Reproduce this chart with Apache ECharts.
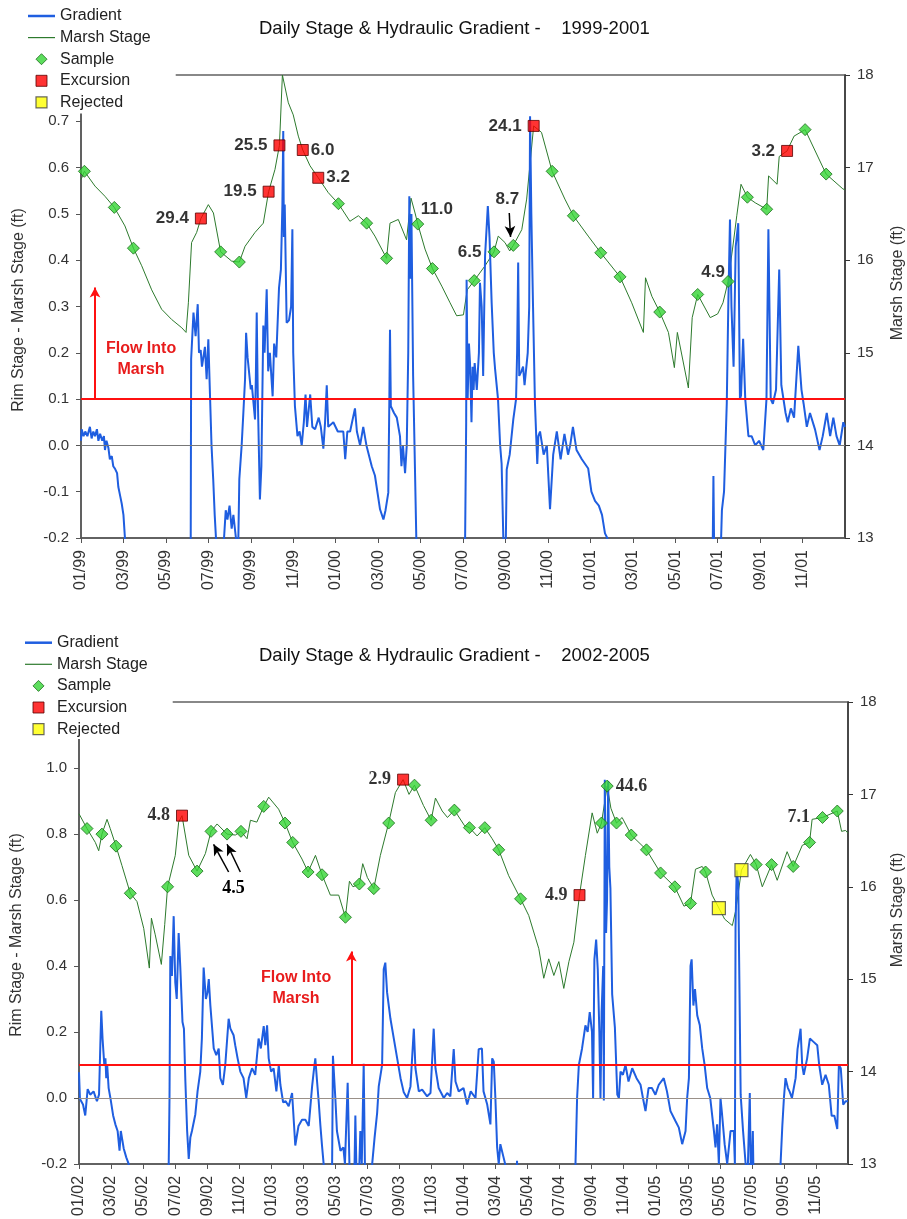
<!DOCTYPE html>
<html><head><meta charset="utf-8">
<script src="https://cdn.jsdelivr.net/npm/echarts@6/dist/echarts.min.js"></script>
<style>html,body{margin:0;padding:0;background:#fff}#c{width:907px;height:1219px}</style>
</head><body><div id="c"></div>
<script>
// x values: months elapsed since Jan 1 of the panel's first year (1999 top, 2002 bottom)
// values below the axis minimum (-0.2) run off the chart and are clipped
const gradTop = [
[0,0.01],[0.03,0.035],[0.12,0.02],[0.2,0.03],[0.3,0.02],[0.42,0.04],[0.5,0.015],[0.58,0.03],[0.66,0.02],[0.75,0.035],[0.82,0.01],[0.9,0.025],[1.0,0.01],[1.08,0.02],[1.13,-0.01],[1.2,0.01],[1.29,-0.005],[1.36,-0.03],[1.45,-0.023],[1.52,-0.045],[1.6,-0.05],[1.7,-0.06],[1.76,-0.09],[1.85,-0.11],[1.92,-0.126],[2.0,-0.15],[2.07,-0.2],[2.15,-0.3],
[5.12,-0.3],[5.17,-0.2],[5.19,0.186],[5.3,0.287],[5.4,0.236],[5.5,0.305],[5.56,0.2],[5.64,0.206],[5.7,0.17],[5.76,0.171],[5.84,0.213],[5.92,0.143],[6.0,0.229],[6.08,0.106],[6.15,0.0],[6.23,-0.073],[6.3,-0.15],[6.36,-0.2],[6.42,-0.3],
[6.7,-0.3],[6.74,-0.2],[6.82,-0.14],[6.9,-0.16],[7.0,-0.13],[7.1,-0.18],[7.18,-0.15],[7.3,-0.2],[7.4,-0.24],[7.46,-0.073],[7.57,0.0],[7.65,0.07],[7.73,0.143],[7.78,0.243],[7.85,0.19],[7.9,0.186],[8.0,0.121],[8.05,0.13],[8.12,0.128],[8.2,0.056],[8.24,0.15],[8.28,0.287],[8.33,0.106],[8.43,-0.117],[8.5,-0.045],[8.59,0.259],[8.65,0.2],[8.75,0.337],[8.82,0.16],[8.9,0.2],[9.03,0.106],[9.1,0.22],[9.2,0.19],[9.28,0.186],[9.33,0.34],[9.42,0.38],[9.49,0.52],[9.53,0.679],[9.56,0.45],[9.6,0.52],[9.69,0.265],[9.8,0.27],[9.9,0.3],[9.96,0.467],[10.0,0.2],[10.08,0.085],[10.2,0.02],[10.3,0.03],[10.4,0.0],[10.5,0.05],[10.58,0.11],[10.65,0.04],[10.8,0.11],[10.9,0.04],[11.03,0.035],[11.2,0.06],[11.3,0.04],[11.42,-0.007],[11.5,0.05],[11.58,0.13],[11.65,0.04],[11.89,0.05],[12.1,0.03],[12.36,0.03],[12.45,-0.03],[12.55,0.03],[12.68,0.03],[12.91,0.08],[13.0,0.03],[13.15,0.0],[13.3,0.04],[13.45,0.0],[13.7,-0.045],[13.85,-0.065],[14.09,-0.138],[14.25,-0.16],[14.35,-0.14],[14.48,-0.102],[14.53,0.1],[14.56,0.25],[14.6,0.085],[14.75,0.07],[14.88,0.06],[15.03,0.02],[15.1,-0.045],[15.17,0.0],[15.27,-0.06],[15.35,0.0],[15.42,0.2],[15.47,0.538],[15.52,0.36],[15.57,0.5],[15.65,0.15],[15.7,0.035],[15.8,-0.2],[15.88,-0.3],
[18.05,-0.3],[18.1,-0.2],[18.15,0.05],[18.17,0.358],[18.22,0.1],[18.28,0.22],[18.33,0.178],[18.4,0.05],[18.45,0.17],[18.5,0.12],[18.55,0.178],[18.65,0.12],[18.75,0.2],[18.8,0.351],[18.88,0.3],[18.95,0.15],[19.04,0.41],[19.17,0.517],[19.25,0.45],[19.35,0.308],[19.45,0.2],[19.51,0.166],[19.65,0.1],[19.75,0.0],[19.82,-0.04],[19.9,-0.2],[19.98,-0.3],[20.02,-0.2],[20.06,-0.052],[20.2,-0.02],[20.37,0.056],[20.5,0.1],[20.55,0.2],[20.6,0.395],[20.65,0.15],[20.75,0.16],[20.83,0.17],[20.9,0.13],[21.05,0.2],[21.12,0.3],[21.16,0.711],[21.22,0.5],[21.3,0.3],[21.39,0.092],[21.5,-0.04],[21.55,0.02],[21.63,0.03],[21.8,-0.02],[21.95,0.0],[22.1,-0.138],[22.25,-0.02],[22.42,0.03],[22.6,-0.03],[22.78,0.025],[22.95,-0.02],[23.05,0.0],[23.18,0.04],[23.35,-0.01],[23.6,-0.03],[23.9,-0.05],[24.05,-0.1],[24.22,-0.12],[24.4,-0.13],[24.55,-0.15],[24.69,-0.19],[24.8,-0.2],[24.9,-0.3],
[29.75,-0.3],[29.8,-0.066],[29.85,-0.3],
[30.1,-0.3],[30.2,-0.14],[30.3,-0.1],[30.43,0.092],[30.5,0.3],[30.58,0.488],[30.65,0.3],[30.75,0.17],[30.85,0.43],[30.97,0.48],[31.05,0.1],[31.1,0.108],[31.2,0.23],[31.3,0.1],[31.45,0.02],[31.6,0.02],[31.77,0.0],[31.95,0.01],[32.15,-0.01],[32.3,0.1],[32.39,0.467],[32.5,0.1],[32.6,0.09],[32.75,0.12],[32.9,0.38],[33.0,0.13],[33.2,0.07],[33.3,0.05],[33.45,0.08],[33.6,0.06],[33.8,0.215],[33.95,0.12],[34.05,0.09],[34.2,0.04],[34.35,0.07],[34.59,0.034],[34.8,-0.01],[34.95,0.02],[35.14,0.07],[35.3,0.02],[35.45,0.06],[35.6,0.02],[35.75,0.0],[35.92,0.05],[36.0,0.04]
];
const stageTop = [
[0,16.87],[0.16,16.96],[0.66,16.80],[1.13,16.69],[1.57,16.57],[2.07,16.37],[2.47,16.13],[2.86,15.94],[3.33,15.68],[3.80,15.47],[4.27,15.36],[4.75,15.27],[4.95,15.22],[5.06,15.54],[5.21,16.19],[5.45,16.30],[5.65,16.45],[6.0,16.60],[6.24,16.51],[6.58,16.09],[7.10,15.99],[7.46,15.98],[7.73,16.15],[8.20,16.30],[8.59,16.40],[8.84,16.74],[9.14,16.98],[9.35,17.24],[9.49,18.0],[9.77,17.70],[10.0,17.57],[10.24,17.34],[10.45,17.19],[10.79,17.02],[11.18,16.89],[11.65,16.73],[12.13,16.61],[12.67,16.42],[13.07,16.48],[13.46,16.40],[13.85,16.26],[14.40,16.02],[14.56,16.40],[14.95,16.44],[15.34,16.22],[15.55,16.67],[15.74,16.51],[15.87,16.39],[16.21,16.12],[16.56,15.91],[17.0,15.72],[17.39,15.54],[17.70,15.40],[18.02,15.41],[18.2,15.68],[18.53,15.78],[19.04,15.94],[19.46,16.09],[19.66,16.26],[19.98,16.19],[20.2,16.10],[20.37,16.16],[20.77,16.33],[21.0,16.66],[21.33,17.45],[21.7,17.38],[22.2,16.96],[22.8,16.66],[23.2,16.48],[23.9,16.26],[24.49,16.08],[25.4,15.82],[25.95,15.54],[26.5,15.22],[26.6,15.81],[26.9,15.61],[27.27,15.44],[27.68,15.22],[27.96,14.84],[28.1,15.22],[28.62,14.62],[28.8,15.38],[29.06,15.63],[29.65,15.38],[30.0,15.42],[30.25,15.54],[30.49,15.77],[30.7,16.12],[30.9,16.48],[31.1,16.82],[31.4,16.68],[31.77,16.62],[32.31,16.55],[32.4,16.91],[32.8,16.82],[32.9,17.12],[33.27,17.18],[33.6,17.34],[34.12,17.41],[35.11,16.93],[35.9,16.77],[36.0,16.76]
];
const sampleTop = [[0.16,16.96],[1.57,16.57],[2.47,16.13],[6.58,16.09],[7.46,15.98],[12.13,16.61],[13.46,16.40],[14.40,16.02],[15.87,16.39,'11.0'],[16.56,15.91],[18.53,15.78],[19.46,16.09,'6.5'],[20.37,16.16,'8.7'],[22.2,16.96],[23.2,16.48],[24.49,16.08],[25.4,15.82],[27.27,15.44],[29.06,15.63],[30.49,15.77,'4.9'],[31.4,16.68],[32.31,16.55],[34.12,17.41],[35.11,16.93]];
const excTop = [[5.65,16.45,'29.4'],[8.84,16.74,'19.5'],[9.35,17.24,'25.5'],[10.45,17.19,'6.0'],[11.18,16.89,'3.2'],[21.33,17.45,'24.1'],[33.27,17.18,'3.2']];
const rejTop = [];
const noteArrowsTop = [[[20.18,16.51],[20.24,16.25]]];
const flowTextTop = [2.83,0.187];
const flowArrowTop = [[0.66,0.1],[0.66,0.341]];

const gradBot = [
[0,0.078],[0.06,-0.003],[0.25,-0.02],[0.39,-0.053],[0.54,0.027],[0.7,0.01],[0.91,0.02],[1.12,-0.01],[1.25,0.01],[1.33,0.158],[1.39,0.264],[1.47,0.18],[1.58,0.1],[1.65,0.12],[1.7,0.06],[1.76,0.1],[1.85,0.03],[1.96,0.0],[2.13,-0.053],[2.27,-0.08],[2.41,-0.1],[2.53,-0.16],[2.61,-0.1],[2.79,-0.153],[2.95,-0.18],[3.1,-0.2],[3.2,-0.3],
[5.55,-0.3],[5.6,-0.2],[5.65,0.0],[5.7,0.43],[5.8,0.37],[5.91,0.551],[6.01,0.35],[6.1,0.3],[6.22,0.5],[6.32,0.4],[6.46,0.23],[6.55,0.21],[6.64,0.05],[6.75,-0.1],[6.85,-0.185],[6.95,-0.12],[7.05,-0.1],[7.26,-0.05],[7.4,0.02],[7.57,0.08],[7.67,0.18],[7.78,0.395],[7.92,0.3],[8.02,0.32],[8.1,0.36],[8.2,0.28],[8.41,0.15],[8.57,0.13],[8.72,0.15],[8.82,0.06],[8.98,0.04],[9.13,0.1],[9.34,0.24],[9.45,0.21],[9.65,0.19],[9.75,0.16],[9.9,0.12],[10.07,0.08],[10.27,0.06],[10.44,0.0],[10.6,0.06],[10.8,0.09],[11.0,0.07],[11.21,0.18],[11.35,0.15],[11.53,0.218],[11.63,0.16],[11.74,0.22],[11.84,0.12],[11.99,0.08],[12.15,0.09],[12.32,0.02],[12.47,0.1],[12.57,0.04],[12.74,-0.013],[12.9,-0.01],[13.09,-0.025],[13.3,0.015],[13.5,-0.144],[13.7,-0.085],[13.92,-0.066],[14.13,-0.066],[14.34,-0.085],[14.55,0.035],[14.65,0.08],[14.75,0.12],[14.86,0.05],[14.96,-0.01],[15.07,-0.085],[15.17,-0.145],[15.27,-0.2],[15.35,-0.3],
[15.75,-0.3],[15.8,-0.2],[15.85,0.128],[16.0,0.0],[16.1,-0.1],[16.32,-0.16],[16.5,-0.15],[16.6,-0.2],[16.7,-0.2],[16.77,0.046],[16.88,-0.2],[17.0,-0.3],[17.2,-0.2],[17.25,-0.053],[17.35,-0.3],[17.5,-0.2],[17.56,-0.1],[17.65,-0.2],[17.77,0.104],[17.87,-0.3],
[18.25,-0.3],[18.3,-0.2],[18.45,-0.12],[18.61,-0.045],[18.71,0.035],[18.92,0.1],[19.02,0.39],[19.12,0.41],[19.23,0.32],[19.44,0.24],[19.65,0.18],[19.86,0.12],[20.07,0.06],[20.27,0.017],[20.48,0.0],[20.69,0.035],[20.9,0.21],[21.0,0.09],[21.21,0.02],[21.42,0.025],[21.73,0.005],[21.94,0.015],[22.14,0.21],[22.25,0.09],[22.45,0.03],[22.77,0.0],[22.98,0.015],[23.18,0.005],[23.39,0.148],[23.5,0.05],[23.7,0.02],[24.0,0.03],[24.23,-0.02],[24.45,0.02],[24.75,0.0],[24.95,0.148],[25.15,0.15],[25.25,0.02],[25.48,-0.02],[25.68,-0.08],[25.79,0.12],[25.89,0.11],[25.99,0.0],[26.1,-0.15],[26.2,-0.2],[26.3,-0.14],[26.5,-0.18],[26.6,-0.2],[26.7,-0.3],
[27.3,-0.3],[27.34,-0.19],[27.4,-0.3],
[30.95,-0.3],[30.99,-0.2],[31.09,0.0],[31.2,0.1],[31.4,0.15],[31.61,0.22],[31.75,0.2],[31.88,0.26],[32.02,0.2],[32.09,0.0],[32.17,0.42],[32.28,0.48],[32.38,0.39],[32.48,0.2],[32.55,0.0],[32.62,0.26],[32.72,0.40],[32.76,-0.008],[32.82,0.964],[32.9,0.5],[32.96,0.6],[33.03,0.96],[33.1,0.7],[33.17,0.636],[33.28,0.314],[33.45,0.213],[33.6,0.01],[33.7,0.0],[33.8,0.08],[33.95,0.07],[34.11,0.1],[34.3,0.05],[34.53,0.09],[34.8,0.06],[35.05,0.04],[35.2,0.0],[35.36,-0.04],[35.55,0.03],[35.76,0.03],[35.98,0.01],[36.19,0.04],[36.5,0.06],[36.7,0.02],[36.92,-0.04],[37.23,-0.07],[37.44,-0.09],[37.65,-0.14],[37.86,-0.1],[37.96,0.0],[38.07,0.06],[38.17,0.40],[38.24,0.42],[38.35,0.28],[38.45,0.33],[38.59,0.25],[38.75,0.22],[38.9,0.15],[39.05,0.1],[39.21,0.03],[39.4,0.0],[39.63,-0.1],[39.73,-0.15],[39.83,-0.08],[39.94,-0.2],[40.04,0.0],[40.14,-0.05],[40.3,-0.14],[40.46,-0.2],[40.67,-0.1],[40.87,-0.1],[40.94,-0.2],[40.98,0.515],[41.05,0.69],[41.15,0.65],[41.23,0.31],[41.3,0.01],[41.45,-0.1],[41.61,-0.2],[41.7,-0.3],[41.82,-0.3],[41.87,0.015],[41.95,-0.3],[42.0,-0.3],[42.06,-0.1],[42.12,-0.3],
[43.75,-0.3],[43.79,-0.2],[43.9,-0.085],[44.0,0.0],[44.1,0.06],[44.25,0.03],[44.35,0.02],[44.5,0.0],[44.73,0.06],[44.85,0.148],[45.04,0.21],[45.14,0.1],[45.24,0.07],[45.45,0.12],[45.62,0.18],[45.85,0.17],[46.08,0.16],[46.2,0.1],[46.39,0.04],[46.6,0.07],[46.8,0.04],[46.98,-0.054],[47.15,-0.054],[47.33,-0.094],[47.43,0.1],[47.55,0.09],[47.7,-0.02],[47.85,-0.01],[48,-0.01]
];
const stageBot = [
[0,16.79],[0.5,16.63],[1.02,16.48],[1.23,16.39],[1.43,16.57],[1.75,16.73],[1.95,16.63],[2.31,16.44],[2.68,16.23],[3.20,15.93],[3.62,15.84],[4.04,15.55],[4.39,15.12],[4.52,15.66],[4.76,15.48],[5.14,15.16],[5.35,15.59],[5.53,16.0],[6.01,16.34],[6.22,16.70],[6.43,16.77],[6.85,16.34],[7.37,16.17],[7.89,16.36],[8.24,16.60],[8.62,16.68],[9.24,16.57],[9.76,16.56],[10.11,16.60],[10.49,16.52],[10.7,16.72],[11.1,16.7],[11.53,16.87],[11.84,16.97],[12.46,16.84],[12.86,16.69],[13.34,16.48],[13.92,16.30],[14.30,16.16],[14.76,16.34],[15.17,16.13],[15.69,15.91],[16.21,15.91],[16.63,15.67],[16.88,16.06],[17.1,16.0],[17.5,16.03],[17.71,16.25],[18.0,16.1],[18.4,15.98],[18.81,16.34],[19.33,16.69],[19.75,17.02],[20.23,17.16],[20.6,17.0],[20.94,17.10],[21.5,16.88],[21.98,16.72],[22.25,16.96],[22.67,16.82],[23.0,16.75],[23.43,16.83],[24.07,16.66],[24.37,16.64],[24.85,16.55],[25.33,16.64],[25.79,16.52],[26.2,16.40],[26.82,16.12],[27.56,15.87],[28.07,15.69],[28.7,15.33],[29.01,15.01],[29.32,15.22],[29.64,15.04],[29.95,15.19],[30.26,14.90],[30.58,15.19],[30.89,15.40],[31.24,15.91],[31.61,16.34],[32.03,16.80],[32.35,16.58],[32.61,16.69],[32.97,17.09],[33.2,16.85],[33.55,16.69],[33.9,16.75],[34.47,16.56],[35.42,16.40],[36.3,16.15],[37.19,16.0],[37.76,15.79],[38.17,15.82],[38.48,16.19],[38.9,16.22],[39.11,16.16],[39.52,15.91],[39.94,15.77],[40.3,15.65],[40.78,15.58],[41.0,15.75],[41.35,16.18],[41.91,16.35],[42.27,16.24],[42.65,16.0],[43.23,16.24],[43.58,16.07],[44.2,16.38],[44.58,16.22],[45.15,16.45],[45.6,16.48],[45.76,16.73],[46.41,16.75],[47.33,16.82],[47.6,16.6],[47.85,16.61],[48,16.58]
];
const sampleBot = [[0.5,16.63],[1.43,16.57],[2.31,16.44],[3.20,15.93],[5.53,16.0],[7.37,16.17],[8.24,16.60],[9.24,16.57],[10.11,16.60],[11.53,16.87],[12.86,16.69],[13.34,16.48],[14.30,16.16],[15.17,16.13],[16.63,15.67],[17.5,16.03],[18.4,15.98],[19.33,16.69],[20.94,17.10],[21.98,16.72],[23.43,16.83],[24.37,16.64],[25.33,16.64],[26.2,16.40],[27.56,15.87],[32.61,16.69],[32.97,17.09,'44.6'],[33.55,16.69],[34.47,16.56],[35.42,16.40],[36.3,16.15],[37.19,16.0],[38.17,15.82],[39.11,16.16],[42.27,16.24],[43.23,16.24],[44.58,16.22],[45.6,16.48],[46.41,16.75,'7.1'],[47.33,16.82]];
const excBot = [[6.43,16.77,'4.8'],[20.23,17.16,'2.9'],[31.24,15.91,'4.9']];
const rejBot = [[39.94,15.77],[41.35,16.18]];
const noteArrowsBot = [[[9.34,16.16],[8.40,16.46]],[[10.07,16.16],[9.24,16.46]]];
const noteTextBot = [[9.65,15.98,'4.5']];
const flowTextBot = [13.55,0.334];
const flowArrowBot = [[17.0,0.1],[17.0,0.444]];

// label placement (styling only)
const excTopPlace = ['left','left','left','right','right','left','left'];
const sampleTopPlace = {'11.0':[19,-15],'6.5':'left','8.7':[-6,-46],'4.9':[-15,-9]};
const excBotPlace = ['left','left','left'];
const sampleBotPlace = {'44.6':'right','7.1':'left'};

const SANS = '"Liberation Sans", Arial, sans-serif';
const SERIF = '"Liberation Serif", "Times New Roman", serif';
const topLabelFont = {fontFamily:SANS, fontWeight:'bold', fontSize:17, color:'#000'};
const botLabelFont = {fontFamily:SERIF, fontWeight:'bold', fontSize:18, color:'#000'};

function lab(place, font){
  if (place === 'left') return Object.assign({show:true, position:'left', distance:6}, font);
  if (place === 'right') return Object.assign({show:true, position:'right', distance:2}, font);
  return Object.assign({show:true, position:'inside', offset:place}, font);
}
function pts(arr, places, font){
  return arr.map((p, i) => {
    const it = {value:[p[0], p[1]]};
    if (p[2]) {
      const pl = Array.isArray(places) ? places[i] : places[p[2]];
      it.label = Object.assign(lab(pl, font), {formatter: p[2]});
    }
    return it;
  });
}
const pad = n => (n < 10 ? '0' : '') + n;
const monthFmt = (y0, maxM) => v => {
  const k = Math.round(v);
  if (k >= maxM) return '';
  return pad(k % 12 + 1) + '/' + pad((y0 + Math.floor(k / 12)) % 100);
};
const numFmt = v => (Math.abs(v) < 1e-9 ? 0 : v).toFixed(1);

const axisCol = '#555';
function xAx(gi, maxM, y0){
  return {gridIndex:gi, type:'value', min:0, max:maxM, interval:2,
    axisLine:{onZero:false, lineStyle:{color:axisCol, width:1.5}},
    axisTick:{length:5, lineStyle:{color:axisCol}},
    axisLabel:{rotate:90, fontSize:16, fontFamily:SANS, color:'#333', margin:12, formatter:monthFmt(y0, maxM), showMaxLabel:false},
    splitLine:{show:false}};
}
function yLeft(gi, mn, mx, iv){
  return {gridIndex:gi, type:'value', position:'left', min:mn, max:mx, interval:iv,
    axisLine:{show:true, lineStyle:{color:axisCol, width:1.5}},
    axisTick:{show:true, length:5, lineStyle:{color:axisCol}},
    axisLabel:{fontSize:15, fontFamily:SANS, color:'#333', margin:12, formatter:numFmt, showMaxLabel:false},
    splitLine:{show:false}};
}
function yRight(gi){
  return {gridIndex:gi, type:'value', position:'right', min:13, max:18, interval:1,
    axisLine:{show:true, lineStyle:{color:'#333', width:1.5}},
    axisTick:{show:true, length:5, lineStyle:{color:'#333'}},
    axisLabel:{fontSize:15, fontFamily:SANS, color:'#333', margin:12},
    splitLine:{show:false}};
}

const blue = '#1f5ee0', green = '#2d7a2d', red = '#ff1010';
const sampleStyle = {color:'#35d435', borderColor:'#1b6e1b', borderWidth:1};
const excStyle = {color:'#ff0000', borderColor:'#5a0000', borderWidth:1};
const rejStyle = {color:'#ffff00', borderColor:'#444', borderWidth:1.2};

function panelSeries(p){
  const xi = p.xi, yl = p.yl, yr = p.yr;
  return [
    {type:'line', xAxisIndex:xi, yAxisIndex:yl, data:[], z:1, silent:true,
      markLine:{silent:true, symbol:['none','none'], label:{show:false},
        lineStyle:{color:p.zeroCol, width:1, type:'solid'}, data:[{yAxis:0}]}},
    {name:'Marsh Stage', type:'line', xAxisIndex:xi, yAxisIndex:yr, data:p.stage, symbol:'none',
      lineStyle:{color:green, width:1}, itemStyle:{color:green}, z:2},
    {name:'Gradient', type:'line', xAxisIndex:xi, yAxisIndex:yl, data:p.grad, symbol:'none',
      lineStyle:{color:blue, width:2}, itemStyle:{color:blue}, z:3},
    {type:'line', xAxisIndex:xi, yAxisIndex:yl, data:[], z:4, silent:true,
      markLine:{silent:true, symbol:['none','none'], label:{show:false},
        lineStyle:{color:red, width:2, type:'solid'},
        data:[{yAxis:0.1},
          [{coord:p.flowArrow[0], symbol:'none'},{coord:p.flowArrow[1], symbol:'arrow', symbolSize:[8,10]}]]},
      markPoint:{silent:true, data:[{coord:p.flowText, symbol:'rect', symbolSize:1, itemStyle:{color:'rgba(0,0,0,0)'},
        label:{show:true, position:'inside', formatter:'Flow Into\nMarsh', color:'#e81c1c', fontWeight:'bold',
          fontSize:16, lineHeight:21, fontFamily:SANS, align:'center'}}]}},
    {name:'Sample', type:'scatter', xAxisIndex:xi, yAxisIndex:yr, symbol:'diamond', symbolSize:12,
      itemStyle:sampleStyle, data:pts(p.sample, p.samplePlace, p.font), z:5},
    {name:'Excursion', type:'scatter', xAxisIndex:xi, yAxisIndex:yr, symbol:'rect', symbolSize:11,
      itemStyle:excStyle, data:pts(p.exc, p.excPlace, p.font), z:6},
    {name:'Rejected', type:'scatter', xAxisIndex:xi, yAxisIndex:yr, symbol:'rect', symbolSize:13,
      itemStyle:rejStyle, data:p.rej.map(r => ({value:r})), z:6},
    {type:'line', xAxisIndex:xi, yAxisIndex:yr, data:[], z:7, silent:true,
      markLine:{silent:true, symbol:['none','arrow'], symbolSize:[8,11], label:{show:false},
        lineStyle:{color:'#000', width:1.5, type:'solid'},
        data:p.arrows.map(a => [{coord:a[0]},{coord:a[1]}])},
      markPoint:{silent:true, data:p.notes.map(n => ({coord:[n[0], n[1]], symbol:'rect', symbolSize:1,
        itemStyle:{color:'rgba(0,0,0,0)'},
        label:Object.assign({show:true, position:'inside', formatter:n[2]}, p.font)}))}}
  ];
}

const legendData = [
  {name:'Gradient', icon:'path://M0,0H27V2.5H0Z', itemStyle:{color:blue, borderWidth:0}},
  {name:'Marsh Stage', icon:'path://M0,0H27V1.2H0Z', itemStyle:{color:green, borderWidth:0}},
  {name:'Sample', icon:'path://M5.5,0L11,5.5L5.5,11L0,5.5Z', itemStyle:sampleStyle},
  {name:'Excursion', icon:'path://M0,0H10V10H0Z', itemStyle:excStyle},
  {name:'Rejected', icon:'path://M0,0H10V10H0Z', itemStyle:rejStyle}
];
function legend(top, padArr){
  return {data:legendData, orient:'vertical', left:0, top:top, padding:padArr, backgroundColor:'#fff',
    itemWidth:27, itemHeight:11, itemGap:5.6, selectedMode:false, symbolKeepAspect:true,
    textStyle:{fontSize:16, fontFamily:SANS, color:'#222', lineHeight:16}};
}
const nameStyle = {font:'16px ' + SANS, fill:'#333', align:'center', verticalAlign:'middle'};

const chart = echarts.init(document.getElementById('c'), null, {renderer:'canvas'});
chart.setOption({
  animation:false,
  backgroundColor:'#fff',
  title:[
    {text:'Daily Stage & Hydraulic Gradient -    1999-2001', left:259, top:19, padding:0,
      textStyle:{fontSize:18.5, fontWeight:'normal', fontFamily:SANS, color:'#111'}},
    {text:'Daily Stage & Hydraulic Gradient -    2002-2005', left:259, top:646, padding:0,
      textStyle:{fontSize:18.5, fontWeight:'normal', fontFamily:SANS, color:'#111'}}
  ],
  legend:[legend(0, [8,25,3,28]), legend(620, [14.7,25,2,25])],
  grid:[
    {left:81, top:75, width:764, height:463, show:true, borderColor:'#888', borderWidth:2, backgroundColor:'rgba(0,0,0,0)'},
    {left:79, top:702, width:769, height:464, show:true, borderColor:'#888', borderWidth:2, backgroundColor:'rgba(0,0,0,0)'}
  ],
  xAxis:[xAx(0, 36, 1999), xAx(1, 48, 2002)],
  yAxis:[yLeft(0, -0.2, 0.8, 0.1), yRight(0), yLeft(1, -0.2, 1.2, 0.2), yRight(1)],
  graphic:[
    {type:'text', x:18.5, y:310, rotation:Math.PI/2, style:Object.assign({text:'Rim Stage - Marsh Stage (ft)'}, nameStyle)},
    {type:'text', x:898, y:283, rotation:Math.PI/2, style:Object.assign({text:'Marsh Stage (ft)'}, nameStyle)},
    {type:'text', x:17, y:935, rotation:Math.PI/2, style:Object.assign({text:'Rim Stage - Marsh Stage (ft)'}, nameStyle)},
    {type:'text', x:898, y:910, rotation:Math.PI/2, style:Object.assign({text:'Marsh Stage (ft)'}, nameStyle)}
  ],
  series:[].concat(
    panelSeries({xi:0, yl:0, yr:1, grad:gradTop, stage:stageTop, sample:sampleTop, samplePlace:sampleTopPlace,
      exc:excTop, excPlace:excTopPlace, rej:rejTop, arrows:noteArrowsTop, notes:[], font:topLabelFont,
      flowText:flowTextTop, flowArrow:flowArrowTop, zeroCol:'#777'}),
    panelSeries({xi:1, yl:2, yr:3, grad:gradBot, stage:stageBot, sample:sampleBot, samplePlace:sampleBotPlace,
      exc:excBot, excPlace:excBotPlace, rej:rejBot, arrows:noteArrowsBot, notes:noteTextBot, font:botLabelFont,
      flowText:flowTextBot, flowArrow:flowArrowBot, zeroCol:'#9a9088'})
  )
});
</script>
</body></html>
